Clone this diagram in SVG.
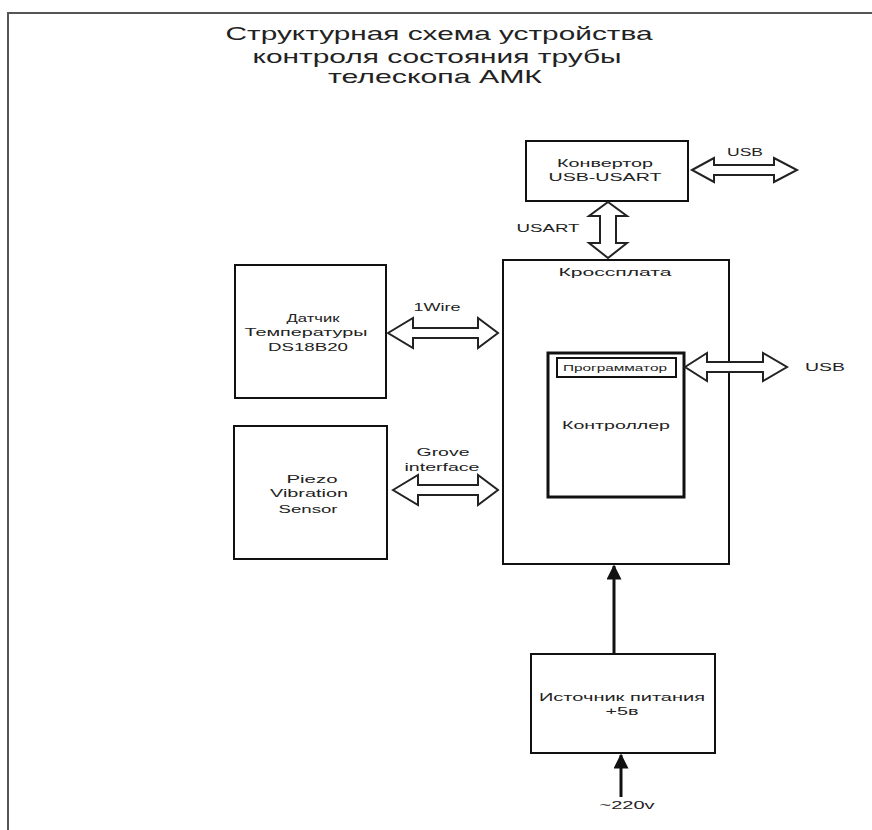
<svg xmlns="http://www.w3.org/2000/svg" width="872" height="830" viewBox="0 0 872 830">
<style>
  text { font-family: "Liberation Sans", Arial, sans-serif; fill: #222; text-anchor: middle; }
  .t { font-size: 19px; }
  .s { font-size: 11px; }
  .xs { font-size: 9px; }
  .box { fill: #fff; stroke: #111; stroke-width: 2; }
  .dbl { fill: #fff; stroke: #222; stroke-width: 2; stroke-linejoin: miter; }
  .frame { stroke: #555; stroke-width: 2; fill: none; }
</style>
<defs>
  <marker id="ah" viewBox="0 0 10 10" refX="9" refY="5" markerWidth="5" markerHeight="5" orient="auto" markerUnits="strokeWidth">
    <path d="M0,0 L10,5 L0,10 Z" fill="#111"/>
  </marker>
</defs>
<rect width="872" height="830" fill="#fff"/>
<path class="frame" d="M8,830 L8,13 L872,13"/>

<g id="title">
  <text class="t" x="439" y="40" textLength="427" lengthAdjust="spacingAndGlyphs">Структурная схема устройства</text>
  <text class="t" x="437" y="63" textLength="369" lengthAdjust="spacingAndGlyphs">контроля состояния трубы</text>
  <text class="t" x="435" y="83" textLength="214" lengthAdjust="spacingAndGlyphs">телескопа  АМК</text>
</g>

<g id="converter">
  <rect class="box" x="526" y="141" width="162" height="60"/>
  <text class="s" x="605" y="167" textLength="96" lengthAdjust="spacingAndGlyphs">Конвертор</text>
  <text class="s" x="605" y="181" textLength="113" lengthAdjust="spacingAndGlyphs">USB-USART</text>
</g>

<g id="crossboard">
  <rect class="box" x="503" y="260" width="226" height="304"/>
  <text class="s" x="615" y="276" textLength="113" lengthAdjust="spacingAndGlyphs">Кроссплата</text>
</g>

<g id="controller">
  <rect x="548" y="353" width="136" height="144" fill="#fff" stroke="#111" stroke-width="3"/>
  <rect x="557" y="358" width="119" height="19" fill="#fff" stroke="#111" stroke-width="2"/>
  <text class="xs" x="615" y="371" textLength="104" lengthAdjust="spacingAndGlyphs">Программатор</text>
  <text class="s" x="616" y="429" textLength="108" lengthAdjust="spacingAndGlyphs">Контроллер</text>
</g>

<g id="temp-sensor">
  <rect class="box" x="235" y="265" width="151" height="133"/>
  <text class="s" x="313" y="322" textLength="53" lengthAdjust="spacingAndGlyphs">Датчик</text>
  <text class="s" x="306" y="336" textLength="123" lengthAdjust="spacingAndGlyphs">Температуры</text>
  <text class="s" x="308" y="351" textLength="80" lengthAdjust="spacingAndGlyphs">DS18B20</text>
</g>

<g id="piezo">
  <rect class="box" x="234" y="426" width="153" height="133"/>
  <text class="s" x="312" y="483" textLength="51" lengthAdjust="spacingAndGlyphs">Piezo</text>
  <text class="s" x="309" y="497" textLength="78" lengthAdjust="spacingAndGlyphs">Vibration</text>
  <text class="s" x="308" y="513" textLength="59" lengthAdjust="spacingAndGlyphs">Sensor</text>
</g>

<g id="psu">
  <rect class="box" x="531" y="654" width="184" height="99"/>
  <text class="s" x="622" y="701" textLength="166" lengthAdjust="spacingAndGlyphs">Источник питания</text>
  <text class="s" x="622" y="715" textLength="33" lengthAdjust="spacingAndGlyphs">+5в</text>
</g>

<g id="connectors">
  <!-- USB from converter -->
  <path class="dbl" d="M692,170 L714,158 L714,165 L774,165 L774,158 L797,170 L774,182 L774,175 L714,175 L714,182 Z"/>
  <text class="s" x="745" y="156" textLength="36" lengthAdjust="spacingAndGlyphs">USB</text>
  <!-- USART vertical -->
  <path class="dbl" d="M608,202 L627,216 L616,216 L616,243 L627,243 L608,258 L589,243 L600,243 L600,216 L589,216 Z"/>
  <text class="s" x="548" y="232" textLength="63" lengthAdjust="spacingAndGlyphs">USART</text>
  <!-- 1Wire -->
  <path class="dbl" d="M388,333 L413,318 L413,328 L478,328 L478,318 L498,333 L478,348 L478,338 L413,338 L413,348 Z"/>
  <text class="s" x="437" y="311" textLength="47" lengthAdjust="spacingAndGlyphs">1Wire</text>
  <!-- Grove -->
  <path class="dbl" d="M393,490 L418,475 L418,485 L478,485 L478,475 L498,490 L478,505 L478,495 L418,495 L418,505 Z"/>
  <text class="s" x="443" y="456" textLength="53" lengthAdjust="spacingAndGlyphs">Grove</text>
  <text class="s" x="442" y="471" textLength="75" lengthAdjust="spacingAndGlyphs">interface</text>
  <!-- USB from controller -->
  <path class="dbl" d="M685,367 L707,353 L707,362 L763,362 L763,353 L787,367 L763,381 L763,372 L707,372 L707,381 Z"/>
  <text class="s" x="825" y="371" textLength="40" lengthAdjust="spacingAndGlyphs">USB</text>
  <!-- PSU to crossboard -->
  <line x1="614" y1="654" x2="614" y2="566" stroke="#111" stroke-width="3" marker-end="url(#ah)"/>
  <!-- mains to PSU -->
  <line x1="621" y1="797" x2="621" y2="755" stroke="#111" stroke-width="3" marker-end="url(#ah)"/>
  <text class="s" x="627" y="809" textLength="55" lengthAdjust="spacingAndGlyphs">~220v</text>
</g>
</svg>
